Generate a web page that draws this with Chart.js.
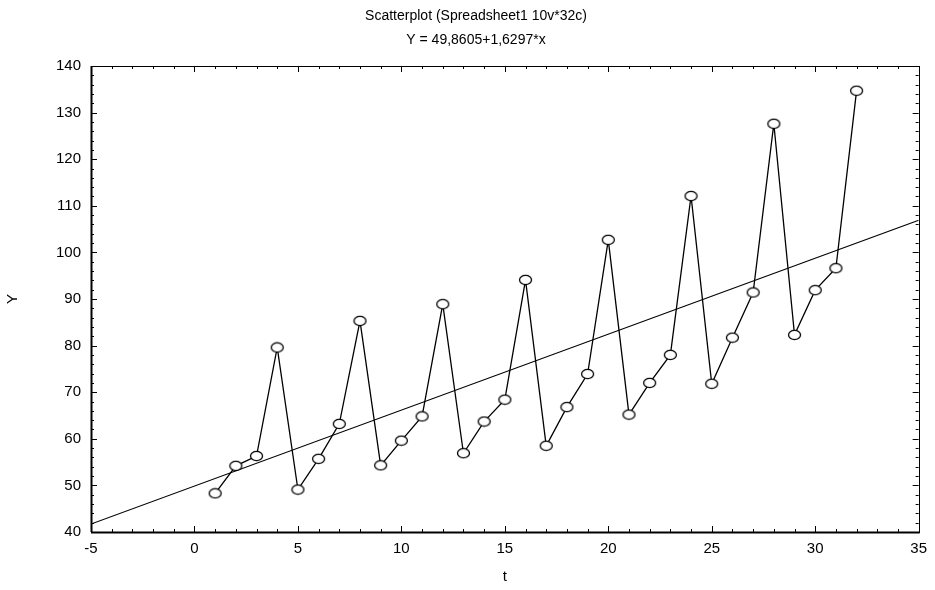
<!DOCTYPE html>
<html>
<head>
<meta charset="utf-8">
<script src="https://cdn.jsdelivr.net/npm/chart.js@4.4.1/dist/chart.umd.min.js"></script>
<style>
  html, body { margin: 0; padding: 0; background: #fff; }
  #wrap { width: 935px; height: 590px; }
</style>
</head>
<body>
<div id="wrap"><canvas id="grafico" width="935" height="590"></canvas></div>
<script>
// dados
var tempo = [1,2,3,4,5,6,7,8,9,10,11,12,13,14,15,16,17,18,19,20,21,22,23,24,25,26,27,28,29,30,31,32];
var valoresY = [48.3,54.2,56.3,79.6,49.1,55.7,63.2,85.3,54.3,59.6,64.8,88.9,56.9,63.7,68.4,94.1,58.5,66.8,73.9,102.7,65.2,72.0,78.0,112.1,71.8,81.7,91.4,127.6,82.3,91.9,96.6,134.7];
// reta de regressao Y = 49,8605+1,6297*x nas bordas do grafico
var retaX = [-5, 35];
var retaY = [41.71, 106.90];
var titulo = ['Scatterplot (Spreadsheet1 10v*32c)', 'Y = 49,8605+1,6297*x'];

var fonte = "'Liberation Sans', Arial, sans-serif";

// marcador eliptico vazado
var marcador = document.createElement('canvas');
marcador.width = 15;
marcador.height = 12;
var mctx = marcador.getContext('2d');
mctx.beginPath();
mctx.ellipse(7.5, 6, 6, 4.6, 0, 0, Math.PI * 2);
mctx.fillStyle = '#fff';
mctx.fill();
mctx.lineWidth = 1.3;
mctx.strokeStyle = '#000';
mctx.stroke();

var pontos = tempo.map(function (t, i) { return {x: t, y: valoresY[i]}; });
var reta = retaX.map(function (x, i) { return {x: x, y: retaY[i]}; });

// titulo centrado como no original
var cabecalho = {
  id: 'cabecalho',
  afterDraw: function (chart) {
    var c = chart.ctx;
    c.save();
    c.fillStyle = '#000';
    c.font = '14px ' + fonte;
    c.textAlign = 'center';
    c.textBaseline = 'middle';
    c.fillText(titulo[0], 476, 16);
    c.fillText(titulo[1], 476, 40);
    c.restore();
  }
};

// moldura com marcas para dentro
var moldura = {
  id: 'moldura',
  afterDatasetsDraw: function (chart) {
    var c = chart.ctx, a = chart.chartArea;
    var sx = chart.scales.x, sy = chart.scales.y;
    c.save();
    c.strokeStyle = '#000';
    c.lineWidth = 1;
    c.strokeRect(Math.round(a.left) + 0.5, Math.round(a.top) + 0.5, Math.round(a.right - a.left), Math.round(a.bottom - a.top));
    c.lineWidth = 2;
    c.beginPath();
    c.moveTo(a.left, Math.round(a.bottom) + 0.5);
    c.lineTo(a.right + 1, Math.round(a.bottom) + 0.5);
    c.moveTo(Math.round(a.left) + 0.5, a.top);
    c.lineTo(Math.round(a.left) + 0.5, a.bottom);
    c.stroke();
    c.lineWidth = 1;
    c.beginPath();
    for (var v = -5; v <= 35; v += 1) {
      var px = Math.round(sx.getPixelForValue(v)) + 0.5;
      var len = (v % 5 === 0) ? 6 : 3;
      c.moveTo(px, a.bottom); c.lineTo(px, a.bottom - len);
      c.moveTo(px, a.top); c.lineTo(px, a.top + len);
    }
    for (var w = 40; w <= 140; w += 2) {
      var py = Math.round(sy.getPixelForValue(w)) + 0.5;
      var len2 = (w % 10 === 0) ? 6 : 3;
      c.moveTo(a.left, py); c.lineTo(a.left + len2, py);
      c.moveTo(a.right, py); c.lineTo(a.right - len2, py);
    }
    c.stroke();
    c.restore();
  }
};

var ctx = document.getElementById('grafico');
var chart = new Chart(ctx, {
  type: 'scatter',
  data: {
    datasets: [
      {
        label: 'Y',
        data: pontos,
        showLine: true,
        borderColor: '#000',
        borderWidth: 1.3,
        pointStyle: marcador,
        pointRadius: 6,
        pointHoverRadius: 6
      },
      {
        label: 'reta',
        data: reta,
        showLine: true,
        borderColor: '#000',
        borderWidth: 1.2,
        pointRadius: 0
      }
    ]
  },
  plugins: [moldura, cabecalho],
  options: {
    responsive: false,
    animation: false,
    layout: { padding: { left: 4, right: 14, top: 66, bottom: 0 } },
    plugins: {
      legend: { display: false },
      tooltip: { enabled: false },
      title: { display: false }
    },
    scales: {
      x: {
        type: 'linear',
        min: -5,
        max: 35,
        grid: { display: false, drawTicks: false },
        border: { display: false },
        ticks: { stepSize: 5, color: '#000', padding: 8, font: { family: fonte, size: 15 } },
        title: { display: true, text: 't', color: '#000', padding: { top: 10, bottom: 4 }, font: { family: fonte, size: 15 } },
        afterFit: function (s) { s.height = 58; }
      },
      y: {
        type: 'linear',
        min: 40,
        max: 140,
        grid: { display: false, drawTicks: false },
        border: { display: false },
        ticks: { stepSize: 10, color: '#000', padding: 10, font: { family: fonte, size: 15 } },
        title: { display: true, text: 'Y', color: '#000', padding: 0, font: { family: fonte, size: 15 } },
        afterFit: function (s) { s.width = 87; }
      }
    }
  }
});
</script>
</body>
</html>
